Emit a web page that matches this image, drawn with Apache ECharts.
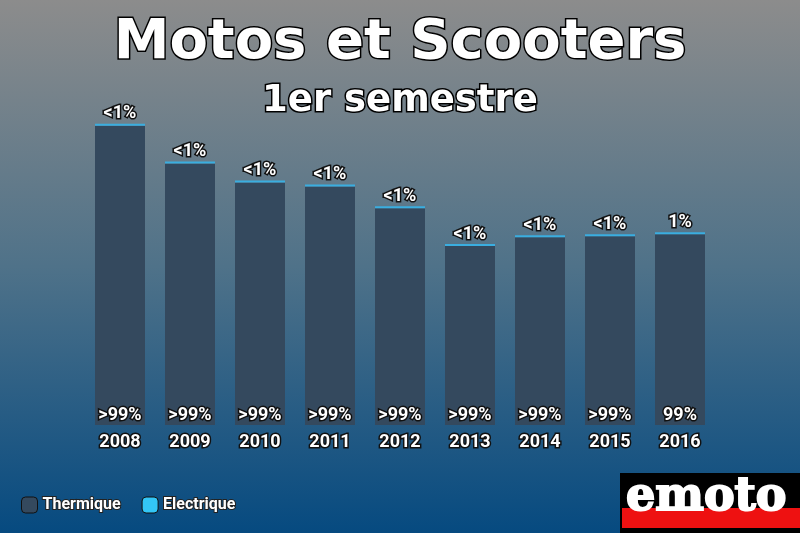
<!DOCTYPE html>
<html><head><meta charset="utf-8">
<script src="https://cdn.jsdelivr.net/npm/echarts@6/dist/echarts.min.js"></script>
<style>html,body{margin:0;padding:0;}#c{width:800px;height:533px;}</style>
</head><body><div id="c"></div>
<script>
const years = ['2008','2009','2010','2011','2012','2013','2014','2015','2016'];
const thermique = [150500, 131500, 122000, 120000, 109000, 90000, 94500, 95000, 96000];
const electrique = [900, 850, 850, 850, 850, 850, 850, 850, 1000];
const thermiqueLabels = ['>99%','>99%','>99%','>99%','>99%','>99%','>99%','>99%','99%'];
const electriqueLabels = ['<1%','<1%','<1%','<1%','<1%','<1%','<1%','<1%','1%'];

const chart = echarts.init(document.getElementById('c'));
const lbl = {color:'#fff', fontFamily:'Roboto', fontWeight:'bold', fontSize:18, textBorderColor:'#111', textBorderWidth:3};
chart.setOption({
  backgroundColor: new echarts.graphic.LinearGradient(0,0,0,1,[
    {offset:0,color:'#8c8c8c'},{offset:0.5,color:'#4f7289'},{offset:1,color:'#064a80'}]),
  title:[
    {text:'Motos et Scooters', left:'center', top:10, textStyle:{fontFamily:'DejaVu Sans', fontWeight:'bold', fontSize:56, color:'#fff', textBorderColor:'#000', textBorderWidth:3}},
    {text:'1er semestre', left:'center', top:78, textStyle:{fontFamily:'DejaVu Sans', fontWeight:'bold', fontSize:37, color:'#fff', textBorderColor:'#000', textBorderWidth:3}}
  ],
  legend:{left:16, bottom:14, itemWidth:16, itemHeight:16, itemGap:20,
    textStyle:{color:'#fff', fontFamily:'Roboto', fontWeight:'bold', fontSize:16, textBorderColor:'#222', textBorderWidth:2},
    data:[{name:'Thermique', itemStyle:{color:'#34495e', borderColor:'#111', borderWidth:1}},
          {name:'Electrique', itemStyle:{color:'#33c6f6', borderColor:'#111', borderWidth:1}}]},
  grid:{left:85, right:85, top:100, bottom:108},
  xAxis:{type:'category', data:years, axisLine:{show:false}, axisTick:{show:false},
    axisLabel:Object.assign({margin:8}, lbl)},
  yAxis:{type:'value', min:0, max:163500, show:false, splitLine:{show:false}},
  series:[
    {name:'Thermique', type:'bar', stack:'s', data:thermique, barWidth:50,
     itemStyle:{color:'#34495e'},
     label:Object.assign({show:true, position:'insideBottom', distance:1, formatter:p=>thermiqueLabels[p.dataIndex]}, lbl)},
    {name:'Electrique', type:'bar', stack:'s', data:electrique, barWidth:50,
     itemStyle:{color:'#3aaee0'}, barMinHeight:2,
     label:Object.assign({show:true, position:'top', distance:1, formatter:p=>electriqueLabels[p.dataIndex]}, lbl)}
  ],
  graphic:[
    {type:'rect', left:620, top:473, shape:{width:180, height:60}, style:{fill:'#000'}},
    {type:'rect', left:622, top:508, shape:{width:178, height:20}, style:{fill:'#ee1111'}},
    {type:'text', left:625, top:474, style:{text:'emoto', fill:'#fff', font:'bold 46px "DejaVu Serif"', stroke:'#fff', lineWidth:2}}
  ]
});
</script></body></html>
